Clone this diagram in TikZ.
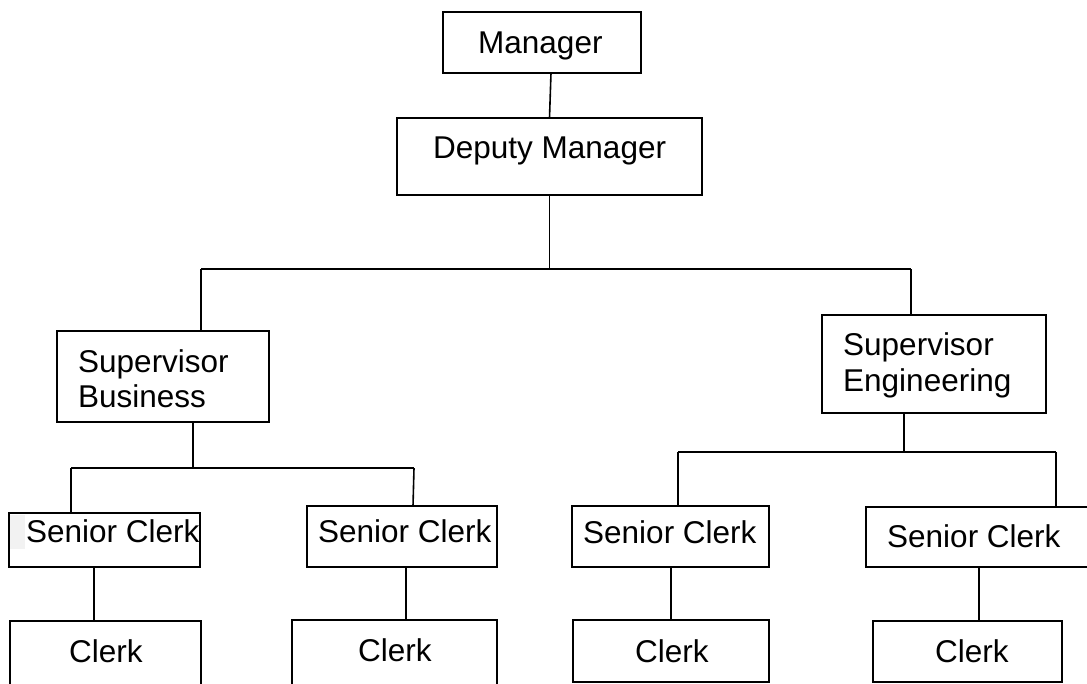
\documentclass[tikz,border=0pt]{standalone}
\usepackage{fontspec}
\setmainfont{Liberation Sans}
\begin{document}
\begin{tikzpicture}[x=1pt,y=-1pt,
  box/.style={draw=black, line width=1.6pt, inner sep=0pt, outer sep=0pt},
  lbl/.style={inner sep=0pt, anchor=base west, font=\fontsize{31.5}{36}\selectfont},
  conn/.style={draw=black, line width=1.6pt}]
\useasboundingbox (0,0) rectangle (1087,683);
\clip (0,0) rectangle (1087,683);
\fill[white] (0,0) rectangle (1087,683);
% boxes
\node[box, minimum width=198pt, minimum height=61pt] (mgr) at (542,42.5) {};
\node[box, minimum width=305pt, minimum height=77pt] (dep) at (549.5,156.5) {};
\node[box, minimum width=212pt, minimum height=91pt] (sb) at (163,376.5) {};
\node[box, minimum width=224pt, minimum height=98pt] (se) at (934,364) {};
\fill[gray!10] (9,515) rectangle (25,549);
\node[box, minimum width=191pt, minimum height=54pt] (sc1) at (104.5,540) {};
\node[box, minimum width=190pt, minimum height=61pt] (sc2) at (402,536.5) {};
\node[box, minimum width=197pt, minimum height=61pt] (sc3) at (670.5,536.5) {};
\node[box, minimum width=229pt, minimum height=60pt] (sc4) at (980.5,537) {};
\node[box, minimum width=191pt, minimum height=74pt] (c1) at (105.5,658) {};
\node[box, minimum width=205pt, minimum height=75pt] (c2) at (394.5,657.5) {};
\node[box, minimum width=196pt, minimum height=62pt] (c3) at (671,651) {};
\node[box, minimum width=189pt, minimum height=61pt] (c4) at (967.5,651.5) {};
% labels
\node[lbl] (tmgr) at (478,53) {Manager};
\node[lbl] (tdep) at (433,158) {Deputy Manager};
\node[lbl] (tsb1) at (78,372) {Supervisor};
\node[lbl] (tsb2) at (78,407) {Business};
\node[lbl] (tse1) at (843,355) {Supervisor};
\node[lbl] (tse2) at (843,391) {Engineering};
\node[lbl] (tsc1) at (26,542) {Senior Clerk};
\node[lbl] (tsc2) at (318,542) {Senior Clerk};
\node[lbl] (tsc3) at (583,543) {Senior Clerk};
\node[lbl] (tsc4) at (887,547) {Senior Clerk};
\node[lbl] (tc1) at (69,662) {Clerk};
\node[lbl] (tc2) at (358,661) {Clerk};
\node[lbl] (tc3) at (635,662) {Clerk};
\node[lbl] (tc4) at (935,662) {Clerk};
% junction coordinates
\coordinate (hL) at (201,269);
\coordinate (hR) at (911,269);
\coordinate (bL) at (71,468);
\coordinate (bM) at (193,468);
\coordinate (bR) at (414,468);
\coordinate (eL) at (678,452);
\coordinate (eM) at (904,452);
\coordinate (eR) at (1056,452);
% connectors
\draw[conn] ([xshift=9pt]mgr.south) -- (dep.north);
\draw[conn] (dep.south) -- (dep.south |- hL);
\draw[conn] (hL) -- (hR);
\draw[conn] (hL) -- (hL |- sb.north);
\draw[conn] (hR) -- (hR |- se.north);
\draw[conn] (bM |- sb.south) -- (bM);
\draw[conn] (bL) -- (bR);
\draw[conn] (bL) -- (bL |- sc1.north);
\draw[conn] (bR) -- ([xshift=-1pt]bR |- sc2.north);
\draw[conn] (eM |- se.south) -- (eM);
\draw[conn] (eL) -- (eR);
\draw[conn] (eL) -- (eL |- sc3.north);
\draw[conn] (eR) -- (eR |- sc4.north);
\coordinate (v1) at (94,0);
\coordinate (v2) at (406,0);
\coordinate (v3) at (671,0);
\coordinate (v4) at (979,0);
\draw[conn] (v1 |- sc1.south) -- (v1 |- c1.north);
\draw[conn] (v2 |- sc2.south) -- (v2 |- c2.north);
\draw[conn] (v3 |- sc3.south) -- (v3 |- c3.north);
\draw[conn] (v4 |- sc4.south) -- (v4 |- c4.north);
\end{tikzpicture}
\end{document}
